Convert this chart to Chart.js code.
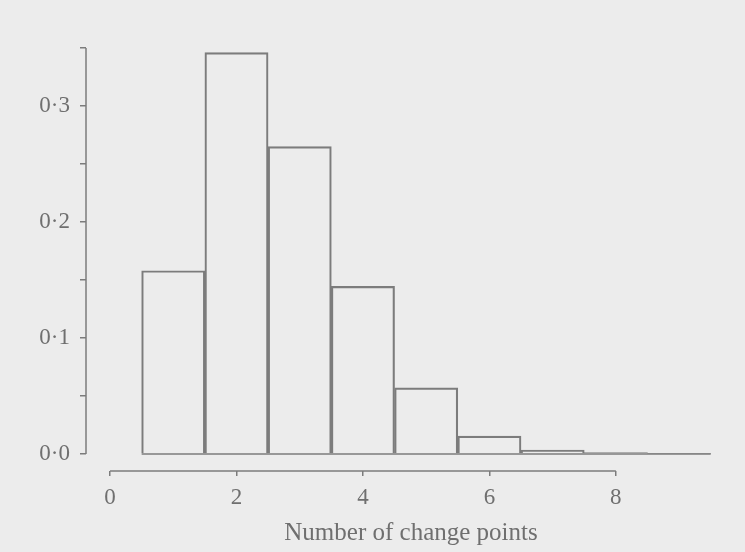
<!DOCTYPE html>
<html>
<head>
<meta charset="utf-8">
<script src="https://cdn.jsdelivr.net/npm/chart.js@4"></script>
<style>
    html, body { margin: 0; padding: 0; background: #ececec; }
    #wrap { width: 745px; height: 552px; position: relative; }
</style>
</head>
<body>
<div id="wrap"><canvas id="grafica"></canvas></div>
<script>
// valores
const changePoints = [1, 2, 3, 4, 5, 6, 7, 8, 9];
const probabilities = [0.158, 0.346, 0.265, 0.1445, 0.057, 0.0155, 0.0035, 0.0013, 0.0003];
const xTicks = [0, 2, 4, 6, 8];
const yTicks = [0, 0.05, 0.1, 0.15, 0.2, 0.25, 0.3, 0.35];
const yTickLabels = ['0·0', '', '0·1', '', '0·2', '', '0·3', ''];

const inkColor = '#7c7c7c';
const textColor = '#6f6f6f';

// lineas de ejes separadas, como en el original
const axisLines = {
    id: 'axisLines',
    afterDatasetsDraw(chart) {
        const { ctx, chartArea, scales } = chart;
        const x = scales.x, y = scales.y;
        ctx.save();
        ctx.strokeStyle = inkColor;
        ctx.lineWidth = 1.5;
        ctx.beginPath();
        // eje y de 0 a 0.35
        ctx.moveTo(chartArea.left, y.getPixelForValue(0));
        ctx.lineTo(chartArea.left, y.getPixelForValue(y.max));
        // eje x de 0 a 8
        ctx.moveTo(x.getPixelForValue(xTicks[0]), chartArea.bottom);
        ctx.lineTo(x.getPixelForValue(xTicks[xTicks.length - 1]), chartArea.bottom);
        // linea base del histograma
        const b = y.getPixelForValue(0);
        ctx.moveTo(x.getPixelForValue(changePoints[0] - 0.5), b);
        ctx.lineTo(x.getPixelForValue(changePoints[changePoints.length - 1] + 0.5), b);
        ctx.stroke();
        ctx.restore();
    }
};

const ctx = document.getElementById('grafica').getContext('2d');
new Chart(ctx, {
    type: 'bar',
    data: {
        datasets: [{
            data: changePoints.map((c, i) => ({ x: c, y: probabilities[i] })),
            backgroundColor: 'rgba(0,0,0,0)',
            borderColor: inkColor,
            borderWidth: 1.5,
            borderSkipped: 'start',
            barPercentage: 1,
            categoryPercentage: 1
        }]
    },
    options: {
        responsive: true,
        maintainAspectRatio: false,
        animation: false,
        layout: { padding: { top: 48, right: 9, left: 0, bottom: 0 } },
        plugins: {
            legend: { display: false },
            tooltip: { enabled: false }
        },
        scales: {
            x: {
                type: 'linear',
                min: -0.38,
                max: 9.9,
                offset: false,
                border: { display: false },
                grid: { offset: false, drawOnChartArea: false, color: inkColor, lineWidth: 1.5, tickLength: 5 },
                afterBuildTicks: s => { s.ticks = xTicks.map(v => ({ value: v })); },
                afterFit: s => { s.height = 81; },
                ticks: {
                    color: textColor,
                    padding: 8,
                    maxRotation: 0,
                    font: { family: 'Liberation Serif', size: 23 },
                    callback: v => String(v)
                },
                title: {
                    display: true,
                    text: 'Number of change points',
                    color: textColor,
                    padding: { top: 0, bottom: 4 },
                    font: { family: 'Liberation Serif', size: 25 }
                }
            },
            y: {
                min: -0.0146,
                max: 0.35,
                border: { display: false },
                grid: { drawOnChartArea: false, color: inkColor, lineWidth: 1.5, tickLength: 6 },
                afterBuildTicks: s => { s.ticks = yTicks.map(v => ({ value: v })); },
                afterFit: s => { s.width = 86; },
                ticks: {
                    color: textColor,
                    padding: 10,
                    font: { family: 'Liberation Serif', size: 23 },
                    callback: (v, i) => yTickLabels[i]
                }
            }
        }
    },
    plugins: [axisLines]
});
</script>
</body>
</html>
